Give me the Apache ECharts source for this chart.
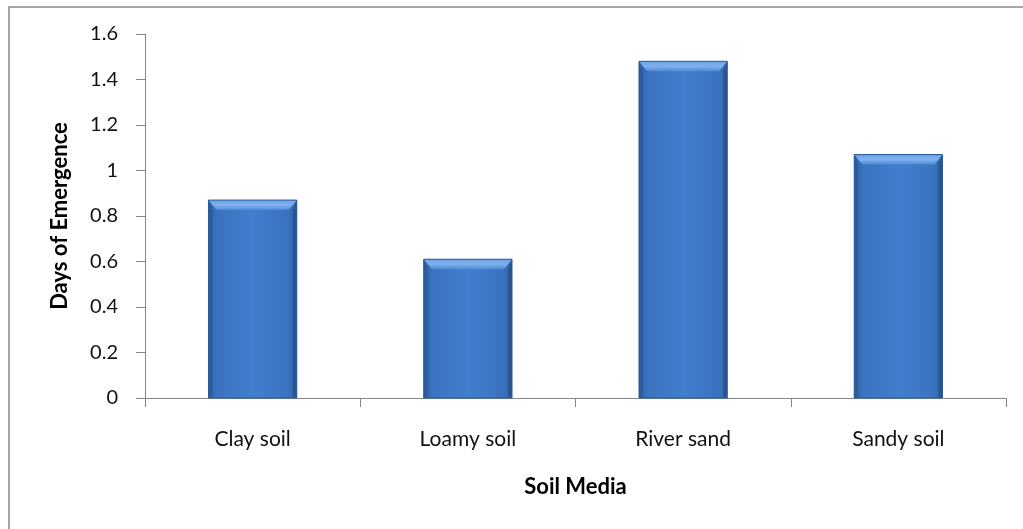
<!DOCTYPE html>
<html>
<head>
<meta charset="utf-8">
<title>Days of Emergence by Soil Media</title>
<script src="https://cdn.jsdelivr.net/npm/echarts@6/dist/echarts.min.js"></script>
<style>
  html, body { margin: 0; padding: 0; background: #ffffff; }
  #chart { width: 1023px; height: 529px; }
</style>
</head>
<body>
<div id="chart"></div>
<script>
// Soil media categories and mean days of emergence
const categories = ['Clay soil', 'Loamy soil', 'River sand', 'Sandy soil'];
const emergenceDays = [0.87, 0.61, 1.48, 1.07];
const yTicks = [0, 0.2, 0.4, 0.6, 0.8, 1, 1.2, 1.4, 1.6];

const FONT = 'Lato, "Open Sans", sans-serif';
const AXIS_GREY = '#868686';

// Bevelled bar: gradient body, light top bevel, darker side edges
function renderBar(params, api) {
  const idx = api.value(0);
  const val = api.value(1);
  const top = api.coord([idx, val]);
  const base = api.coord([idx, 0]);
  const band = api.size([1, 0])[0];
  const w = band * 0.41;
  const x0 = top[0] - w / 2, x1 = top[0] + w / 2;
  const y0 = top[1], y1 = base[1];
  const bt = 10, bs = 4;
  const lin = (x, y, x2, y2, stops) => ({ type: 'linear', x, y, x2, y2, colorStops: stops });
  return {
    type: 'group',
    children: [
      {
        type: 'rect',
        shape: { x: x0, y: y0, width: w, height: y1 - y0 },
        style: {
          fill: lin(0, 0, 1, 0, [
            { offset: 0, color: '#2f62a6' },
            { offset: 0.1, color: '#3a73bf' },
            { offset: 0.5, color: '#407fce' },
            { offset: 0.9, color: '#3a73bf' },
            { offset: 1, color: '#2f62a6' }
          ])
        }
      },
      {
        type: 'polygon',
        shape: { points: [[x0, y0], [x0 + bs, y0 + bt], [x0 + bs, y1], [x0, y1]] },
        style: { fill: '#2d5c9c' }
      },
      {
        type: 'polygon',
        shape: { points: [[x1, y0], [x1 - bs, y0 + bt], [x1 - bs, y1], [x1, y1]] },
        style: { fill: '#2a5590' }
      },
      {
        type: 'polygon',
        shape: { points: [[x0, y0], [x1, y0], [x1 - bs * 2, y0 + bt], [x0 + bs * 2, y0 + bt]] },
        style: {
          fill: lin(0, 0, 0, 1, [
            { offset: 0, color: '#6ea2e4' },
            { offset: 0.5, color: '#7fb1ee' },
            { offset: 1, color: '#4d8ad6' }
          ])
        }
      },
      {
        type: 'rect',
        shape: { x: x0, y: y0, width: w, height: y1 - y0 },
        style: { fill: 'none', stroke: '#2b5a98', lineWidth: 1 }
      }
    ]
  };
}

const chart = echarts.init(document.getElementById('chart'), null, { renderer: 'canvas' });

chart.setOption({
  backgroundColor: '#ffffff',
  animation: false,
  graphic: [
    {
      type: 'rect',
      shape: { x: 9, y: 7, width: 1040, height: 540 },
      style: { fill: 'none', stroke: '#8a8a8a', lineWidth: 1.5 },
      silent: true
    }
  ],
  grid: { left: 145, right: 17, top: 34, bottom: 131 },
  xAxis: {
    type: 'category',
    data: categories,
    name: 'Soil Media',
    nameLocation: 'middle',
    nameGap: 78,
    nameTextStyle: { fontFamily: FONT, fontSize: 22, fontWeight: 'bold', color: '#000' },
    axisLine: { lineStyle: { color: AXIS_GREY, width: 1 } },
    axisTick: { show: true, alignWithLabel: false, length: 9, lineStyle: { color: AXIS_GREY } },
    axisLabel: { margin: 31, fontFamily: FONT, fontSize: 21, color: '#111' },
    splitLine: { show: false }
  },
  yAxis: {
    type: 'value',
    min: 0,
    max: 1.6,
    interval: 0.2,
    name: 'Days of Emergence',
    nameLocation: 'middle',
    nameRotate: 90,
    nameGap: 74,
    nameTextStyle: { fontFamily: FONT, fontSize: 22, fontWeight: 'bold', color: '#000' },
    axisLine: { show: true, lineStyle: { color: AXIS_GREY, width: 1 } },
    axisTick: { show: true, inside: false, length: 9, lineStyle: { color: AXIS_GREY } },
    axisLabel: {
      margin: 27,
      fontFamily: FONT,
      fontSize: 20,
      color: '#111',
      formatter: v => {
        const t = yTicks.find(k => Math.abs(k - v) < 1e-9);
        return t === undefined ? '' : String(t);
      }
    },
    splitLine: { show: false }
  },
  series: [
    {
      type: 'custom',
      renderItem: renderBar,
      encode: { x: 0, y: 1 },
      data: emergenceDays.map((v, i) => [i, v])
    }
  ]
});
</script>
</body>
</html>
